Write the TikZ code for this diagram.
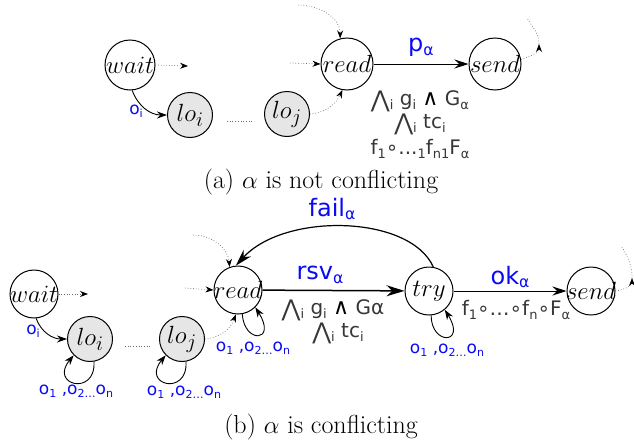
\documentclass[tikz,border=0pt]{standalone}
\usepackage{fontspec}
\usepackage{graphicx}
\usetikzlibrary{arrows.meta}
\newfontfamily\lblfont{DejaVu Sans}
\definecolor{lblblue}{RGB}{10,10,245}
\definecolor{lblgray}{RGB}{55,55,55}
\definecolor{dotgray}{RGB}{110,110,110}
\definecolor{lofill}{RGB}{230,230,230}
\newcommand{\lsub}[1]{\raisebox{-0.3ex}{\scalebox{0.65}{#1}}}
\newcommand{\bigand}{\raisebox{-0.1ex}{\scalebox{1.15}{⋀}}}
\newcommand{\andsym}{\textcolor{black}{\scalebox{1.1}{∧}}}
\begin{document}
\begin{tikzpicture}[x=1pt,y=-1pt,
  state/.style={circle, draw, line width=1pt, minimum size=50pt, inner sep=0pt,
    font=\fontsize{28}{32}\selectfont},
  lostate/.style={state, fill=lofill, minimum size=45pt},
  dotarr/.style={dotted, dotgray, line width=0.7pt, -{Stealth[length=8pt,width=6pt,color=black]}},
  dotline/.style={dotted, dotgray, line width=0.7pt},
  solarr/.style={line width=1pt, -{Stealth[length=14pt,width=9pt]}},
  bigarr/.style={line width=1.5pt, -{Stealth[length=18pt,width=11pt]}},
  smallarr/.style={line width=0.9pt, -{Stealth[length=10pt,width=7pt]}},
  blbl/.style={text=lblblue, inner sep=0pt, font=\lblfont\fontsize{24}{28}\selectfont},
  slbl/.style={text=lblblue, inner sep=0pt, font=\lblfont\fontsize{17}{20}\selectfont},
  glbl/.style={text=lblgray, inner sep=0pt, font=\lblfont\fontsize{20}{24}\selectfont},
  captext/.style={inner sep=0pt, font=\fontsize{26}{30}\selectfont}]
\useasboundingbox (0,0) rectangle (634,442);

% ---------- (a) ----------
\node[state] (wait) at (130,65) {\makebox[0pt]{$wait$}};
\node[lostate] (loi) at (190,115) {\makebox[0pt]{$lo_i$}};
\node[lostate] (loj) at (287,114) {\makebox[0pt]{$lo_j$}};
\node[state, minimum size=52pt] (read) at (347,64) {\makebox[0pt]{$read$}};
\node[state, minimum size=52pt] (send) at (495,64) {\makebox[0pt]{$send$}};

\coordinate (wout) at (188,66);
\draw[dotarr] (wait.east) -- (wout);
\draw[smallarr] (wait.-85) to[out=-70,in=180] (loi.west);
\node[slbl] (oi) at (136,111) {o\lsub{i}};
\coordinate (da1) at (227,121);
\coordinate (da2) at (254,121);
\draw[dotline] (da1) -- (da2);
\draw[dotarr] (loj.east) to[out=5,in=-115] (read.-100);
\coordinate (rin) at (290,63);
\draw[dotarr] (rin) -- (read.west);
\coordinate (rtop) at (298,5);
\draw[dotarr] (rtop) to[out=0,in=90] (read.105);
\draw[solarr] (read) -- (send);
\node[blbl] (pa) at (421,47) {p\lsub{α}};
\coordinate (sout) at (539,44);
\coordinate (stop) at (527,18);
\draw[dotarr] (send.10) to[out=20,in=-90] (sout);
\draw[dotline] (sout) to[out=90,in=-60] (stop);
\node[glbl] (ga1) at (420,101) {\bigand\lsub{i} g\lsub{i} \andsym{} G\lsub{α}};
\node[glbl] (ga2) at (420,124) {\bigand\lsub{i} tc\lsub{i}};
\node[glbl] (ga3) at (420,149) {f\lsub{1}∘...\lsub{1}f\lsub{n}\lsub{1}F\lsub{α}};
\node[captext] (capa) at (321,182) {(a) $\alpha$ is not conflicting};

% ---------- (b) ----------
\node[state, minimum size=48pt] (wait2) at (34,294) {\makebox[0pt]{$wait$}};
\node[lostate] (loi2) at (90,339) {\makebox[0pt]{$lo_i$}};
\node[lostate] (loj2) at (182,339) {\makebox[0pt]{$lo_j$}};
\node[state, minimum size=48pt] (read2) at (238,290) {\makebox[0pt]{$read$}};
\node[state, minimum size=48pt] (try) at (429,291) {\makebox[0pt]{$try$}};
\node[state, minimum size=48pt] (send2) at (591,291) {\makebox[0pt]{$send$}};

\coordinate (wout2) at (88,294);
\draw[dotarr] (wait2.east) -- (wout2);
\draw[smallarr] (wait2.-85) to[out=-70,in=180] (loi2.west);
\node[slbl] (oi2) at (33,331) {o\lsub{i}};
\draw[smallarr] (loi2.-80) .. controls +(2,35) and +(-25,30) .. (loi2.225);
\node[slbl] (l1) at (76,391) {o\lsub{1} ,o\lsub{2}\lsub{…}o\lsub{n}};
\coordinate (db1) at (125,346);
\coordinate (db2) at (150,346);
\draw[dotline] (db1) -- (db2);
\draw[smallarr] (loj2.-80) .. controls +(2,35) and +(-25,30) .. (loj2.225);
\node[slbl] (l2) at (184,392) {o\lsub{1} ,o\lsub{2}\lsub{…}o\lsub{n}};
\draw[dotarr] (loj2.east) to[out=5,in=-110] (read2.-95);
\coordinate (rin2) at (185,288);
\draw[dotarr] (rin2) -- (read2.west);
\coordinate (rtop2) at (193,235);
\draw[dotarr] (rtop2) to[out=0,in=95] (read2.110);
\draw[smallarr] (read2.-80) .. controls +(2,30) and +(22,35) .. (read2.-45);
\node[slbl] (l3) at (253,348) {o\lsub{1} ,o\lsub{2}\lsub{…}o\lsub{n}};
\draw[bigarr] (read2) -- (try);
\node[blbl] (rsv) at (320,275) {rsv\lsub{α}};
\node[glbl] (gb1) at (333,310) {\bigand\lsub{i} g\lsub{i} \andsym{} Gα};
\node[glbl] (gb2) at (338,333) {\bigand\lsub{i} tc\lsub{i}};
\draw[solarr, line width=1.2pt, -{Stealth[length=17pt,width=10pt]}] (try.80) .. controls (410,215) and (285,212) .. (read2.95);
\node[blbl] (fail) at (332,209) {fail\lsub{α}};
\draw[smallarr] (try.-85) .. controls +(0,30) and +(22,35) .. (try.-50);
\node[slbl] (l4) at (447,350) {o\lsub{1} ,o\lsub{2}\lsub{…}o\lsub{n}};
\draw[solarr] (try) -- (send2);
\node[blbl] (ok) at (510,277) {ok\lsub{α}};
\node[glbl] (gb3) at (516,310) {f\lsub{1}∘…∘f\lsub{n}∘F\lsub{α}};
\coordinate (sout2) at (632,278);
\coordinate (stop2) at (622,247);
\draw[dotarr] (send2.east) to[out=10,in=-90] (sout2);
\draw[dotline] (sout2) to[out=90,in=-60] (stop2);
\node[captext] (capb) at (321,427) {(b) $\alpha$ is conflicting};
\end{tikzpicture}
\end{document}
